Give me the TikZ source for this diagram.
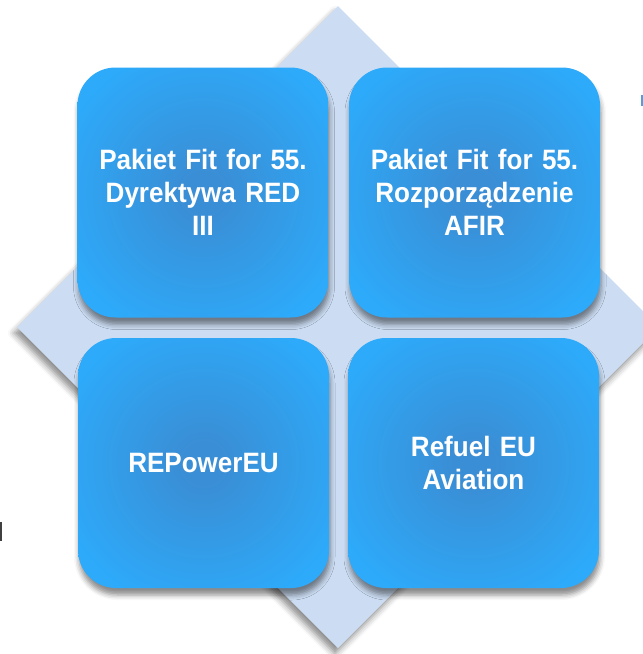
\documentclass[tikz,border=0pt]{standalone}
\usepackage{fontspec}
\setmainfont{Liberation Sans}[FakeStretch=0.93]
\usetikzlibrary{shadows.blur}
\definecolor{diam}{HTML}{CCDDF3}
\definecolor{bin}{HTML}{3A8ED5}
\definecolor{bout}{HTML}{2DAAFA}
\definecolor{markblue}{HTML}{5B9BD5}
\pgfdeclareradialshading{boxshade}{\pgfpoint{0bp}{0bp}}{color(0bp)=(bin); color(4bp)=(bin); color(30bp)=(bout); color(50bp)=(bout)}
\begin{document}
\begin{tikzpicture}[x=1pt,y=-1pt,
  card/.style={draw=none, rounded corners=38pt, minimum width=251pt, minimum height=250pt,
    inner sep=0pt, shading=boxshade, text=white, align=center, text width=240pt,
    font=\bfseries\fontsize{28}{33}\selectfont,
    blur shadow={shadow xshift=1pt, shadow yshift=-7pt, shadow blur radius=5pt, shadow opacity=45}},
  diamondbg/.style={fill=diam,
    blur shadow={shadow xshift=-3pt, shadow yshift=-6pt, shadow blur radius=6pt, shadow opacity=45}}
]
\useasboundingbox (0,0) rectangle (643,654);
\path[diamondbg] (338,6) -- (659,327) -- (338,648) -- (17,327) -- cycle;
\fill[black!75] (0,522) rectangle (1.5,541);
\fill[markblue] (641,95) rectangle (643,106);
\node[card] (tl) at (203,192.5) {Pakiet Fit for 55.\\Dyrektywa RED\\III};
\node[card] (tr) at (474.5,192.5) {Pakiet Fit for 55.\\Rozporządzenie\\AFIR};
\node[card] (bl) at (203.5,463) {REPowerEU};
\node[card] (br) at (473.5,463) {Refuel EU\\Aviation};
\end{tikzpicture}
\end{document}
